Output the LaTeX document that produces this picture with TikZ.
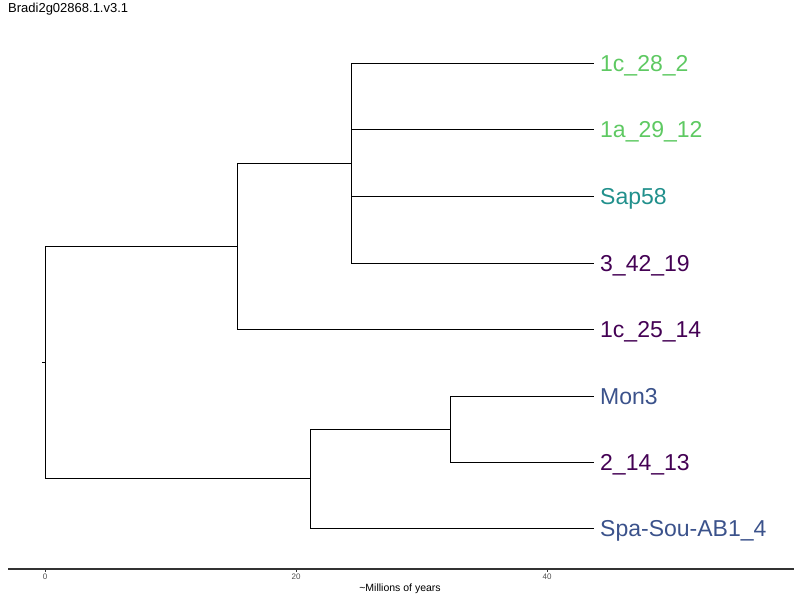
\documentclass[tikz,border=0pt]{standalone}
\usepackage{fontspec}
\setmainfont{Liberation Sans}

\definecolor{vgreen}{HTML}{5EC962}
\definecolor{vteal}{HTML}{21908C}
\definecolor{vpurple}{HTML}{440154}
\definecolor{vblue}{HTML}{3B528B}
\definecolor{axisgray}{HTML}{333333}
\definecolor{tickgray}{HTML}{4D4D4D}

\tikzset{
  branch/.style={black, line width=0.9pt},
  tiplabel/.style={anchor=west, inner xsep=6pt, inner ysep=0pt,
    text height=16.5pt, text depth=0pt, font=\fontsize{23}{23}\selectfont},
  axisline/.style={axisgray, line width=1.2pt},
  tickmark/.style={axisgray, line width=0.8pt},
  ticklabel/.style={tickgray, inner sep=0pt, font=\fontsize{8}{8}\selectfont},
}

\begin{document}
\begin{tikzpicture}[x=1pt, y=-1pt]
    \useasboundingbox (0,0) rectangle (800,600);

    \node[anchor=north west, inner sep=0pt, font=\fontsize{13}{13}\selectfont] (title) at (8,3) {Bradi2g02868.1.v3.1};

    % internal nodes of the tree
    \coordinate (stub) at (42,362);
    \coordinate (root) at (45,362);
    \coordinate (nA) at (237,246);
    \coordinate (nB) at (351,163);
    \coordinate (nC) at (310,478.5);
    \coordinate (nD) at (450,429);

    % tips
    \node[tiplabel, vgreen] (t1) at (594,63) {1c\_28\_2};
    \node[tiplabel, vgreen] (t2) at (594,129.5) {1a\_29\_12};
    \node[tiplabel, vteal] (t3) at (594,196) {Sap58};
    \node[tiplabel, vpurple] (t4) at (594,263) {3\_42\_19};
    \node[tiplabel, vpurple] (t5) at (594,329) {1c\_25\_14};
    \node[tiplabel, vblue] (t6) at (594,396) {Mon3};
    \node[tiplabel, vpurple] (t7) at (594,462) {2\_14\_13};
    \node[tiplabel, vblue] (t8) at (594,528) {Spa-Sou-AB1\_4};

    \draw[branch] (stub) -- (root);
    \draw[branch] (root) |- (nA);
    \draw[branch] (root) |- (nC);

    \draw[branch] (nA) |- (nB);
    \draw[branch] (nA) |- (t5.west);
    \draw[branch] (nB) |- (t1.west);
    \draw[branch] (nB) |- (t2.west);
    \draw[branch] (nB) |- (t3.west);
    \draw[branch] (nB) |- (t4.west);

    \draw[branch] (nC) |- (nD);
    \draw[branch] (nC) |- (t8.west);
    \draw[branch] (nD) |- (t6.west);
    \draw[branch] (nD) |- (t7.west);

    % time axis
    \coordinate (axL) at (8,569);
    \coordinate (axR) at (794,569);
    \draw[axisline] (axL) -- (axR);
    \foreach \x/\lab in {45/0, 296/20, 547/40} {
        \draw[tickmark] (\x,569) -- (\x,572);
        \node[ticklabel] (tick\lab) at (\x,577) {\lab};
    }
    \node[inner sep=0pt, font=\fontsize{10.5}{10.5}\selectfont] (xlabel) at (400,589) {\textasciitilde Millions of years};
\end{tikzpicture}
\end{document}
